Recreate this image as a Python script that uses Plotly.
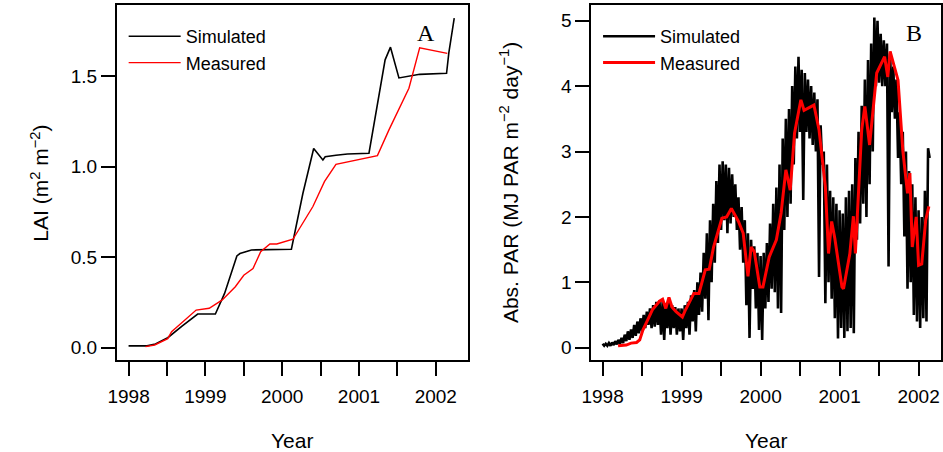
import plotly.graph_objects as go

# ---------------- Panel A: LAI ----------------
lai_sim_t = [1998.00, 1998.24, 1998.35, 1998.51, 1998.70, 1998.875, 1998.90, 1999.13, 1999.25,
             1999.41, 1999.45, 1999.60, 2000.12, 2000.27, 2000.41, 2000.53, 2000.56, 2000.70,
             2000.85, 2001.13, 2001.34, 2001.41, 2001.52, 2001.79, 2002.14, 2002.17, 2002.24]
lai_sim_v = [0.01, 0.01, 0.02, 0.055, 0.12, 0.18, 0.186, 0.186, 0.30,
             0.507, 0.52, 0.54, 0.544, 0.853, 1.10, 1.037, 1.055, 1.063,
             1.07, 1.074, 1.59, 1.66, 1.49, 1.51, 1.516, 1.63, 1.82]

lai_meas_t = [1998.22, 1998.34, 1998.51, 1998.56, 1998.88, 1999.05, 1999.22, 1999.39, 1999.50,
              1999.62, 1999.72, 1999.84, 1999.93, 2000.14, 2000.40, 2000.55, 2000.70, 2001.24,
              2001.39, 2001.65, 2001.79, 2002.15]
lai_meas_v = [0.006, 0.015, 0.05, 0.088, 0.208, 0.218, 0.264, 0.337, 0.40,
              0.437, 0.53, 0.573, 0.573, 0.599, 0.78, 0.917, 1.013, 1.061,
              1.203, 1.433, 1.657, 1.626]

# ---------------- Panel B: absorbed PAR ----------------
# simulated daily series read as alternating high / low values, one pair every 0.04 yr from 1998.00
par_sim_start = 1998.00
par_sim_step = 0.04
par_sim_high = [0.06, 0.06, 0.07, 0.08, 0.10, 0.12, 0.15, 0.20, 0.25, 0.28,
                0.35, 0.40, 0.45, 0.50, 0.55, 0.60, 0.65, 0.70, 0.72, 0.70,
                0.68, 0.72, 0.65, 0.62, 0.60, 0.60, 0.65, 0.70, 0.80, 0.88,
                1.00, 1.15, 1.45, 1.75, 1.95, 2.20, 2.55, 2.80, 2.85, 2.80,
                2.75, 2.65, 2.50, 2.30, 2.15, 1.95, 1.75, 1.65, 1.55, 1.45,
                1.40, 1.45, 1.60, 1.90, 2.20, 2.45, 2.80, 3.20, 3.50, 3.65,
                4.00, 4.30, 4.45, 4.25, 4.20, 4.10, 4.00, 3.90, 3.80, 3.40,
                3.00, 2.80, 2.40, 2.30, 2.20, 2.10, 2.05, 2.30, 2.40, 2.50,
                2.90, 3.30, 3.70, 4.10, 4.40, 4.65, 5.05, 5.00, 4.80, 4.70,
                4.65, 4.50, 4.30, 4.10, 3.60, 3.30, 3.00, 2.70, 2.50, 2.30,
                2.10, 2.00, 2.40, 3.05]
par_sim_low = [0.03, 0.03, 0.03, 0.04, 0.05, 0.06, 0.07, 0.10, 0.12, 0.15,
               0.18, 0.22, 0.25, 0.30, 0.35, 0.30, 0.32, 0.35, 0.20, 0.12,
               0.30, 0.20, 0.30, 0.20, 0.25, 0.12, 0.30, 0.20, 0.40, 0.25,
               0.50, 0.55, 0.75, 0.42, 1.00, 1.30, 1.60, 1.80, 1.95, 1.75,
               1.90, 2.00, 1.80, 1.50, 1.30, 0.65, 0.15, 0.90, 0.60, 0.27,
               0.12, 0.60, 0.70, 0.90, 0.85, 0.60, 0.53, 1.80, 2.00, 2.20,
               2.80, 3.20, 3.30, 2.26, 3.30, 3.20, 3.10, 3.00, 1.08, 2.80,
               0.68, 1.00, 0.75, 0.45, 0.14, 0.30, 0.15, 0.25, 0.30, 0.22,
               1.65, 1.90, 2.20, 2.00, 2.50, 3.00, 4.00, 4.05, 4.00, 4.00,
               1.24, 3.60, 3.50, 2.90, 2.50, 1.70, 0.90, 1.00, 0.50, 0.40,
               0.30, 0.45, 0.40, 2.90]

par_meas_t = [1998.196, 1998.30, 1998.36, 1998.43, 1998.47, 1998.51, 1998.58, 1998.63, 1998.72,
              1998.76, 1998.80, 1998.84, 1998.88, 1998.93, 1999.01, 1999.05, 1999.155, 1999.22,
              1999.30, 1999.35, 1999.405, 1999.51, 1999.57, 1999.63, 1999.72, 1999.78, 1999.84,
              1999.88, 1999.92, 1999.99, 2000.03, 2000.11, 2000.20, 2000.26, 2000.32, 2000.375,
              2000.43, 2000.51, 2000.55, 2000.675, 2000.74, 2000.82, 2000.86, 2000.90, 2000.94,
              2001.03, 2001.05, 2001.13, 2001.175, 2001.20, 2001.28, 2001.32, 2001.38, 2001.47,
              2001.57, 2001.61, 2001.64, 2001.74, 2001.80, 2001.86, 2001.89, 2001.92, 2001.97,
              2002.00, 2002.04, 2002.09, 2002.13]
par_meas_v = [0.03, 0.04, 0.07, 0.08, 0.12, 0.27, 0.45, 0.58, 0.71,
              0.74, 0.60, 0.77, 0.62, 0.55, 0.47, 0.58, 0.83, 0.83,
              1.19, 1.20, 1.54, 1.98, 2.00, 2.13, 1.93, 1.75, 1.09,
              1.54, 1.47, 0.93, 0.93, 1.39, 1.65, 2.06, 2.72, 2.41,
              3.28, 3.79, 3.63, 3.71, 3.33, 2.46, 1.44, 1.93, 1.67,
              0.93, 0.90, 1.44, 2.01, 1.44, 3.33, 3.69, 3.10, 4.20,
              4.45, 4.14, 4.53, 4.09, 3.02, 2.36, 2.67, 1.54, 2.00,
              1.26, 1.28, 1.95, 2.16]

# build the simulated PAR series from the read values
par_sim_t, par_sim_v = [], []
for k, (hi, lo) in enumerate(zip(par_sim_high, par_sim_low)):
    t0 = par_sim_start + k * par_sim_step
    par_sim_t += [t0, t0 + par_sim_step / 2]
    par_sim_v += [hi, lo]

year_ticks = [1998, 1998.5, 1999, 1999.5, 2000, 2000.5, 2001, 2001.5, 2002]
year_labels = ["1998", "", "1999", "", "2000", "", "2001", "", "2002"]

FONT = "Liberation Sans, Arial, sans-serif"
SERIF = "Liberation Serif, Times New Roman, serif"
W, H = 943, 452

fig = go.Figure()
fig.add_trace(go.Scatter(x=lai_sim_t, y=lai_sim_v, mode="lines", name="Simulated",
                         line=dict(color="black", width=1.6), xaxis="x", yaxis="y",
                         legend="legend", legendgroup="a1"))
fig.add_trace(go.Scatter(x=lai_meas_t, y=lai_meas_v, mode="lines", name="Measured",
                         line=dict(color="#ff0000", width=1.4), xaxis="x", yaxis="y",
                         legend="legend", legendgroup="a2"))
fig.add_trace(go.Scatter(x=par_sim_t, y=par_sim_v, mode="lines", name="Simulated",
                         line=dict(color="black", width=2.6), xaxis="x2", yaxis="y2",
                         legend="legend2", legendgroup="b1"))
fig.add_trace(go.Scatter(x=par_meas_t, y=par_meas_v, mode="lines", name="Measured",
                         line=dict(color="#ff0000", width=3), xaxis="x2", yaxis="y2",
                         legend="legend2", legendgroup="b2"))


def px_x(p):
    return p / W


def px_y(p):
    return 1 - p / H


axis_common = dict(showline=True, mirror=True, linecolor="black", linewidth=1.5,
                   ticks="outside", ticklen=14, tickwidth=1.5, tickcolor="black",
                   showgrid=False, zeroline=False,
                   tickfont=dict(family=FONT, size=19, color="black"))

legend_common = dict(xanchor="left", yanchor="top", bgcolor="rgba(0,0,0,0)",
                     borderwidth=0, itemwidth=52, tracegroupgap=0,
                     font=dict(family=FONT, size=18, color="black"))


def label(text, x, y, size, family=FONT, angle=0):
    return dict(text=text, x=px_x(x), y=px_y(y), xref="paper", yref="paper",
                xanchor="center", yanchor="middle", showarrow=False, textangle=angle,
                font=dict(family=family, size=size, color="black"))


fig.update_layout(
    width=W, height=H,
    margin=dict(l=0, r=0, t=0, b=0),
    paper_bgcolor="white", plot_bgcolor="white",
    xaxis=dict(domain=[px_x(108), px_x(463)], range=[1997.846, 2002.414],
               tickvals=year_ticks, ticktext=year_labels, anchor="y",
               ticklabelstandoff=4, **axis_common),
    yaxis=dict(domain=[px_y(360), px_y(5)], range=[-0.068, 1.893],
               tickvals=[0, 0.5, 1.0, 1.5], ticktext=["0.0", "0.5", "1.0", "1.5"],
               anchor="x", **axis_common),
    xaxis2=dict(domain=[px_x(588), px_x(942)], range=[1997.855, 2002.284],
                tickvals=year_ticks, ticktext=year_labels, anchor="y2",
                ticklabelstandoff=4, **axis_common),
    yaxis2=dict(domain=[px_y(360), px_y(5)], range=[-0.188, 5.24],
                tickvals=[0, 1, 2, 3, 4, 5], anchor="x2", **axis_common),
    legend=dict(x=px_x(115), y=px_y(18), **legend_common),
    legend2=dict(x=px_x(595), y=px_y(18), **legend_common),
    annotations=[
        label("A", 421, 33, 24, SERIF),
        label("B", 915, 33, 24, SERIF),
        label("Year", 285.5, 440, 21),
        label("Year", 765, 440, 21),
        label("LAI (m<sup>2</sup> m<sup>\u22122</sup>)", 30, 183, 21, angle=-90),
        label("Abs. PAR (MJ PAR m<sup>\u22122</sup> day<sup>\u22121</sup>)", 505, 183, 21,
              angle=-90),
    ],
)

fig.write_html("out.html")
